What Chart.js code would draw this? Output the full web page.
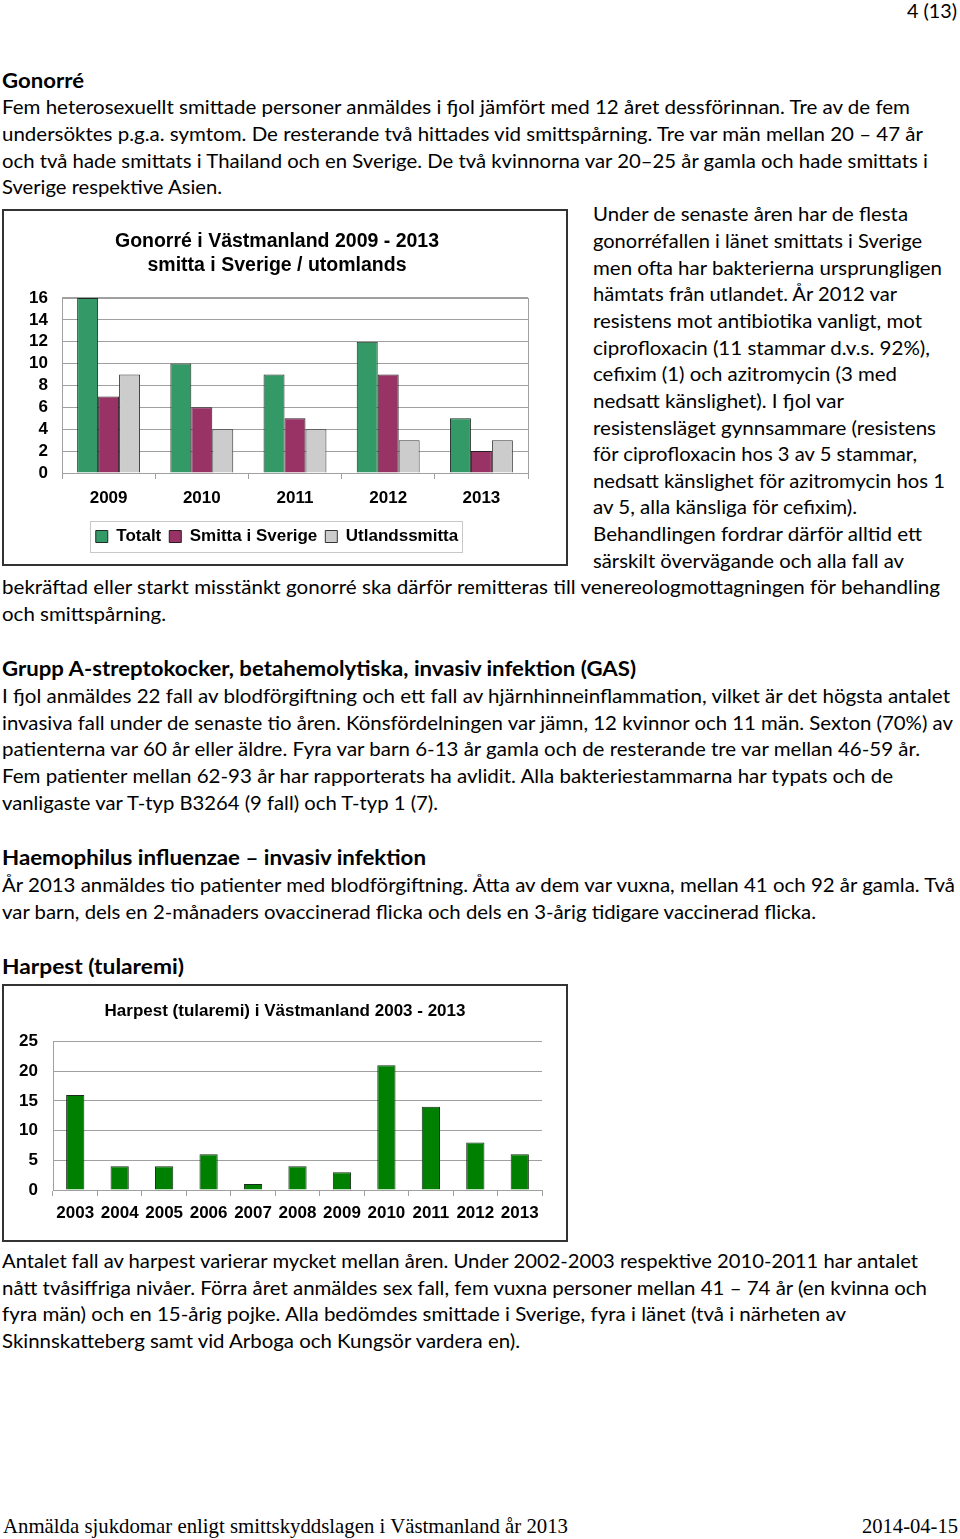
<!DOCTYPE html>
<html lang="sv">
<head>
<meta charset="utf-8">
<script src="https://cdn.jsdelivr.net/npm/chart.js@4"></script>
<style>
  html, body { margin: 0; padding: 0; background: #fff; }
  body { width: 960px; height: 1539px; position: relative; overflow: hidden; color: #000; }
  .ln { position: absolute; white-space: nowrap; font: 20px Lato, "Open Sans", sans-serif; line-height: 26px; transform-origin: 0 50%; }
  .b { font-weight: bold; }
  .serif { font-family: "Liberation Serif", "DejaVu Serif", serif; font-size: 21px; }
  .box { position: absolute; left: 2px; width: 562px; border: 2px solid #333; }
  .box canvas { display: block; }
</style>
</head>
<body>

<div class="ln" style="left:907px;top:-3px" data-w="50">4 (13)</div>

<div class="ln b" style="left:2px;top:67px" data-w="82">Gonorré</div>
<div class="ln" style="left:2px;top:93px" data-w="908">Fem heterosexuellt smittade personer anmäldes i fjol jämfört med 12 året dessförinnan. Tre av de fem</div>
<div class="ln" style="left:2px;top:120px" data-w="921">undersöktes p.g.a. symtom. De resterande två hittades vid smittspårning. Tre var män mellan 20 – 47 år</div>
<div class="ln" style="left:2px;top:147px" data-w="926">och två hade smittats i Thailand och en Sverige. De två kvinnorna var 20–25 år gamla och hade smittats i</div>
<div class="ln" style="left:2px;top:173px" data-w="220">Sverige respektive Asien.</div>

<div class="ln" style="left:593px;top:200px" data-w="315">Under de senaste åren har de flesta</div>
<div class="ln" style="left:593px;top:227px" data-w="329">gonorréfallen i länet smittats i Sverige</div>
<div class="ln" style="left:593px;top:254px" data-w="349">men ofta har bakterierna ursprungligen</div>
<div class="ln" style="left:593px;top:280px" data-w="304">hämtats från utlandet. År 2012 var</div>
<div class="ln" style="left:593px;top:307px" data-w="329">resistens mot antibiotika vanligt, mot</div>
<div class="ln" style="left:593px;top:334px" data-w="337">ciprofloxacin (11 stammar d.v.s. 92%),</div>
<div class="ln" style="left:593px;top:360px" data-w="304">cefixim (1) och azitromycin (3 med</div>
<div class="ln" style="left:593px;top:387px" data-w="251">nedsatt känslighet). I fjol var</div>
<div class="ln" style="left:593px;top:414px" data-w="343">resistensläget gynnsammare (resistens</div>
<div class="ln" style="left:593px;top:440px" data-w="324">för ciprofloxacin hos 3 av 5 stammar,</div>
<div class="ln" style="left:593px;top:467px" data-w="352">nedsatt känslighet för azitromycin hos 1</div>
<div class="ln" style="left:593px;top:493px" data-w="264">av 5, alla känsliga för cefixim).</div>
<div class="ln" style="left:593px;top:520px" data-w="329">Behandlingen fordrar därför alltid ett</div>
<div class="ln" style="left:593px;top:547px" data-w="311">särskilt övervägande och alla fall av</div>
<div class="ln" style="left:2px;top:573px" data-w="938">bekräftad eller starkt misstänkt gonorré ska därför remitteras till venereologmottagningen för behandling</div>
<div class="ln" style="left:2px;top:600px" data-w="164">och smittspårning.</div>

<div class="ln b" style="left:2px;top:655px" data-w="634">Grupp A-streptokocker, betahemolytiska, invasiv infektion (GAS)</div>
<div class="ln" style="left:2px;top:682px" data-w="948">I fjol anmäldes 22 fall av blodförgiftning och ett fall av hjärnhinneinflammation, vilket är det högsta antalet</div>
<div class="ln" style="left:2px;top:709px" data-w="951">invasiva fall under de senaste tio åren. Könsfördelningen var jämn, 12 kvinnor och 11 män. Sexton (70%) av</div>
<div class="ln" style="left:2px;top:735px" data-w="918">patienterna var 60 år eller äldre. Fyra var barn 6-13 år gamla och de resterande tre var mellan 46-59 år.</div>
<div class="ln" style="left:2px;top:762px" data-w="891">Fem patienter mellan 62-93 år har rapporterats ha avlidit. Alla bakteriestammarna har typats och de</div>
<div class="ln" style="left:2px;top:789px" data-w="436">vanligaste var T-typ B3264 (9 fall) och T-typ 1 (7).</div>

<div class="ln b" style="left:2px;top:844px" data-w="424">Haemophilus influenzae – invasiv infektion</div>
<div class="ln" style="left:2px;top:871px" data-w="953">År 2013 anmäldes tio patienter med blodförgiftning. Åtta av dem var vuxna, mellan 41 och 92 år gamla. Två</div>
<div class="ln" style="left:2px;top:898px" data-w="814">var barn, dels en 2-månaders ovaccinerad flicka och dels en 3-årig tidigare vaccinerad flicka.</div>

<div class="ln b" style="left:2px;top:953px" data-w="182">Harpest (tularemi)</div>

<div class="ln" style="left:2px;top:1247px" data-w="916">Antalet fall av harpest varierar mycket mellan åren. Under 2002-2003 respektive 2010-2011 har antalet</div>
<div class="ln" style="left:2px;top:1274px" data-w="925">nått tvåsiffriga nivåer. Förra året anmäldes sex fall, fem vuxna personer mellan 41 – 74 år (en kvinna och</div>
<div class="ln" style="left:2px;top:1300px" data-w="844">fyra män) och en 15-årig pojke. Alla bedömdes smittade i Sverige, fyra i länet (två i närheten av</div>
<div class="ln" style="left:2px;top:1327px" data-w="518">Skinnskatteberg samt vid Arboga och Kungsör vardera en).</div>

<div class="ln serif" style="left:3px;top:1513px" data-w="565">Anmälda sjukdomar enligt smittskyddslagen i Västmanland år 2013</div>
<div class="ln serif" style="left:862px;top:1513px" data-w="96">2014-04-15</div>

<div class="box" style="top:209px;height:353px"><canvas id="gonChart" width="562" height="353"></canvas></div>
<div class="box" style="top:984px;height:254px"><canvas id="harChart" width="562" height="254"></canvas></div>

<script>
// Gonorré 2009 - 2013
const gonYears = ['2009', '2010', '2011', '2012', '2013'];
const gonTotal = [16, 10, 9, 12, 5];
const gonSweden = [7, 6, 5, 9, 2];
const gonAbroad = [9, 4, 4, 3, 3];

// Harpest 2003 - 2013
const harYears = ['2003', '2004', '2005', '2006', '2007', '2008', '2009', '2010', '2011', '2012', '2013'];
const harCases = [16, 4, 4, 6, 1, 4, 3, 21, 14, 8, 6];

// squeeze each text line to the width it has in the printed page
document.querySelectorAll('.ln').forEach(el => {
    const w = +el.dataset.w;
    const cur = el.getBoundingClientRect().width;
    if (cur > 0) el.style.transform = 'scaleX(' + (w / cur) + ')';
});

const axisFont = { family: "'Liberation Sans', Arial, sans-serif", size: 17, weight: 'bold' };
const gridGray = '#a0a0a0';

// frame round the plot area and round the legend
const framePlugin = {
    id: 'frames',
    beforeDatasetsDraw(chart, args, opts) {
        if (!opts.plotBorder) return;
        const a = chart.chartArea;
        const ctx = chart.ctx;
        ctx.save();
        ctx.strokeStyle = gridGray;
        ctx.lineWidth = 1;
        ctx.strokeRect(Math.round(a.left) + 0.5, Math.round(a.top) + 0.5, Math.round(a.right - a.left), Math.round(a.bottom - a.top));
        ctx.restore();
    },
    afterDraw(chart, args, opts) {
        if (!opts.legendBorder || !chart.legend || !chart.legend.legendHitBoxes) return;
        const hb = chart.legend.legendHitBoxes;
        let l = Infinity, r = -Infinity, t = Infinity, b = -Infinity;
        hb.forEach(h => {
            l = Math.min(l, h.left); r = Math.max(r, h.left + h.width);
            t = Math.min(t, h.top); b = Math.max(b, h.top + h.height);
        });
        const ctx = chart.ctx;
        ctx.save();
        ctx.strokeStyle = '#c8c8c8';
        ctx.lineWidth = 1;
        ctx.strokeRect(Math.round(l - 6) + 0.5, Math.round(t - 7) + 0.5, Math.round(r - l + 10), Math.round(b - t + 14));
        ctx.restore();
    }
};

// empty axis on the right, only to leave room there without shifting title and legend
function spacer(w) {
    return {
        position: 'right',
        min: 0,
        max: 1,
        afterFit(scale) { scale.width = w; },
        ticks: { display: false },
        grid: { display: false },
        border: { display: false }
    };
}

new Chart(document.getElementById('gonChart'), {
    type: 'bar',
    data: {
        labels: gonYears,
        datasets: [{
            label: 'Totalt',
            data: gonTotal,
            backgroundColor: '#339966',
            borderColor: '#1e2a22',
            borderWidth: 1
        }, {
            label: 'Smitta i Sverige',
            data: gonSweden,
            backgroundColor: '#993366',
            borderColor: '#2a1e22',
            borderWidth: 1
        }, {
            label: 'Utlandssmitta',
            data: gonAbroad,
            backgroundColor: '#cccccc',
            borderColor: '#333333',
            borderWidth: 1
        }]
    },
    options: {
        responsive: false,
        animation: false,
        layout: { padding: { left: 0, right: 16, top: 0, bottom: 9 } },
        datasets: { bar: { categoryPercentage: 0.675, barPercentage: 1 } },
        plugins: {
            title: {
                display: true,
                text: ['Gonorré i Västmanland 2009 - 2013', 'smitta i Sverige / utomlands'],
                color: '#000',
                font: { family: "'Liberation Sans', Arial, sans-serif", size: 19.5, weight: 'bold', lineHeight: 1.23 },
                padding: { top: 19, bottom: 20 }
            },
            legend: {
                position: 'bottom',
                labels: {
                    color: '#000',
                    font: axisFont,
                    boxWidth: 12,
                    boxHeight: 12,
                    padding: 8
                }
            },
            tooltip: { enabled: false },
            frames: { plotBorder: true, legendBorder: true }
        },
        scales: {
            y: {
                min: 0,
                max: 16,
                afterFit(scale) { scale.width = 58; },
                ticks: { stepSize: 2, autoSkip: false, color: '#000', font: axisFont, padding: 14 },
                grid: { color: gridGray, drawTicks: false },
                border: { color: gridGray }
            },
            yR: spacer(22),
            x: {
                afterFit(scale) { scale.height = 47; },
                ticks: { color: '#000', font: axisFont, padding: 9, maxRotation: 0 },
                grid: { color: gridGray, drawOnChartArea: false, tickLength: 6 },
                border: { color: gridGray }
            }
        }
    },
    plugins: [framePlugin]
});

new Chart(document.getElementById('harChart'), {
    type: 'bar',
    data: {
        labels: harYears,
        datasets: [{
            label: 'Harpest',
            data: harCases,
            backgroundColor: '#008000',
            borderColor: '#1a2e1a',
            borderWidth: 1
        }]
    },
    options: {
        responsive: false,
        animation: false,
        layout: { padding: { left: 0, right: 0, top: 0, bottom: 0 } },
        datasets: { bar: { categoryPercentage: 0.41, barPercentage: 1 } },
        plugins: {
            title: {
                display: true,
                text: 'Harpest (tularemi) i Västmanland 2003 - 2013',
                color: '#000',
                font: { family: "'Liberation Sans', Arial, sans-serif", size: 17, weight: 'bold' },
                padding: { top: 15, bottom: 20 }
            },
            legend: { display: false },
            tooltip: { enabled: false },
            frames: { plotBorder: false, legendBorder: false }
        },
        scales: {
            y: {
                min: 0,
                max: 25,
                afterFit(scale) { scale.width = 49; },
                ticks: { stepSize: 5, autoSkip: false, color: '#000', font: axisFont, padding: 15 },
                grid: { color: gridGray, drawTicks: false },
                border: { color: gridGray }
            },
            yR: spacer(24),
            x: {
                afterFit(scale) { scale.height = 50; },
                ticks: { color: '#000', font: axisFont, padding: 7, maxRotation: 0, autoSkip: false },
                grid: { color: gridGray, drawOnChartArea: false, tickLength: 6 },
                border: { color: gridGray }
            }
        }
    },
    plugins: [framePlugin]
});
</script>
</body>
</html>
